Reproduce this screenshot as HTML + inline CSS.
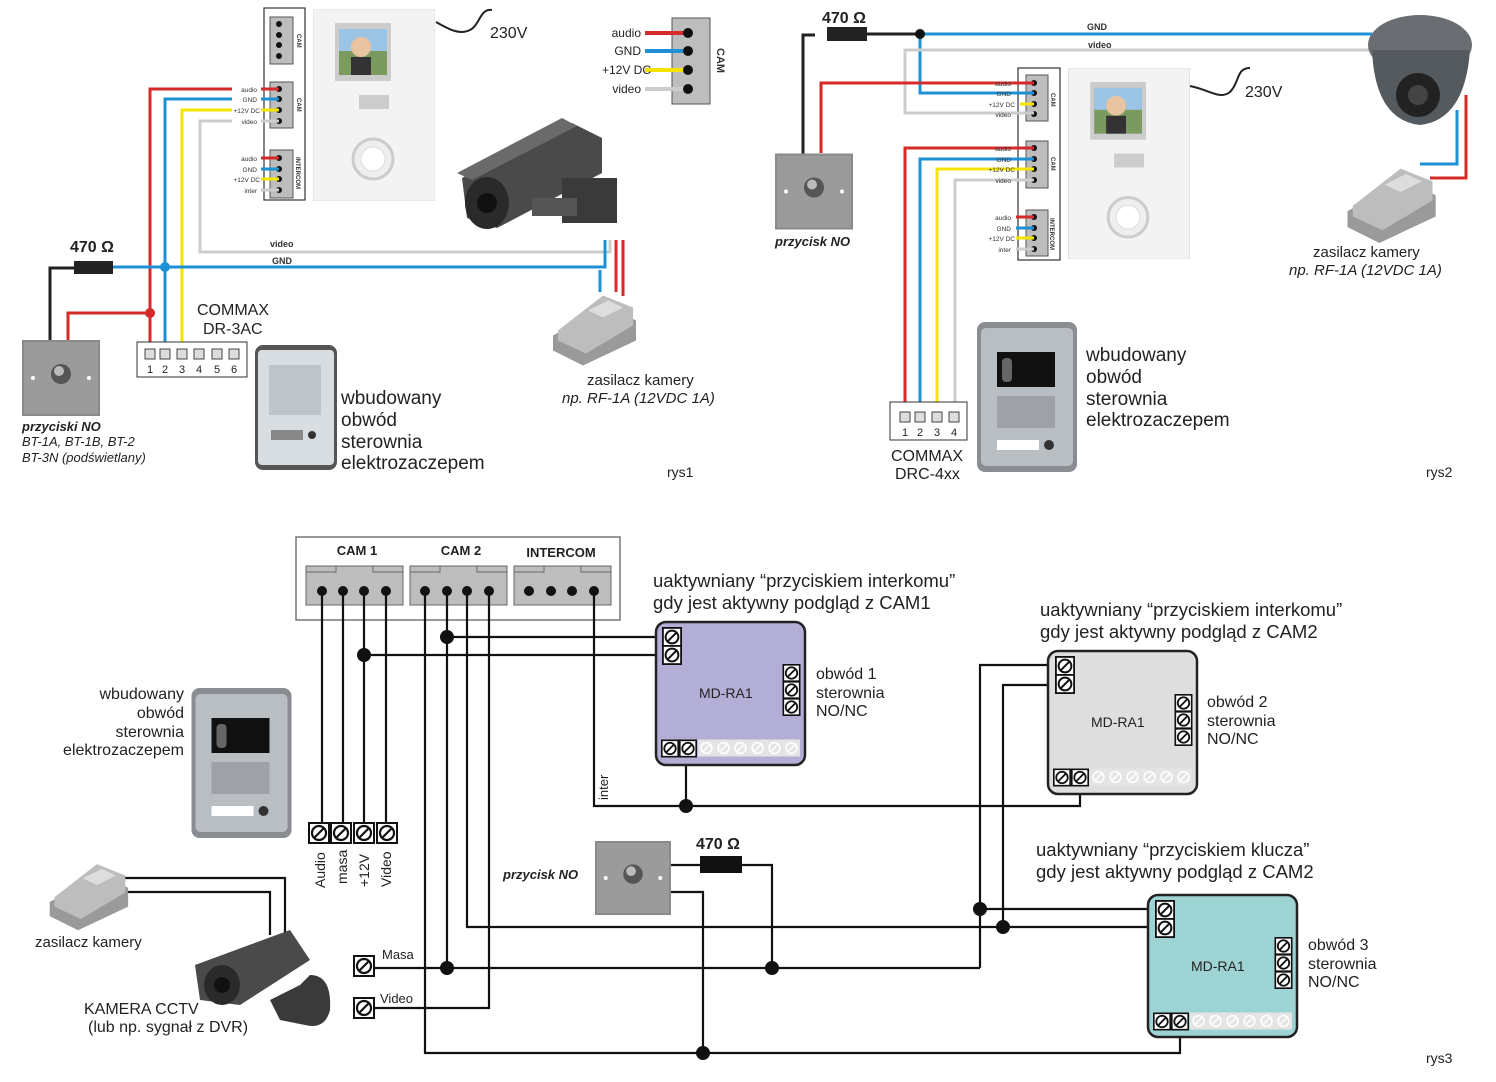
<!DOCTYPE html>
<html><head><meta charset="utf-8"><style>
html,body{margin:0;padding:0;background:#fff}
svg{display:block;font-family:"Liberation Sans",sans-serif}
.t{fill:#222}
.s{fill:#333}
.b{font-weight:bold}
</style></head><body>
<svg width="1496" height="1082" viewBox="0 0 1496 1082" xmlns="http://www.w3.org/2000/svg" font-size="17">
<defs>
<symbol id="sc" viewBox="0 0 22 22"><rect x="1" y="1" width="20" height="20" fill="#fff" stroke="#111" stroke-width="2"/><circle cx="11" cy="11" r="7" fill="none" stroke="#111" stroke-width="2.2"/><line x1="6" y1="16" x2="16" y2="6" stroke="#111" stroke-width="2.2"/></symbol>
<symbol id="scg" viewBox="0 0 22 22"><rect x="0" y="0" width="22" height="22" fill="#e4e4e4"/><circle cx="11" cy="11" r="7" fill="none" stroke="#fff" stroke-width="2"/><line x1="6" y1="16" x2="16" y2="6" stroke="#fff" stroke-width="2"/></symbol>
<symbol id="btn" viewBox="0 0 78 76"><rect x="0" y="0" width="78" height="76" fill="#8a8a8a"/><rect x="2" y="2" width="74" height="72" fill="#9b9b9b"/><circle cx="39" cy="34" r="10" fill="#555"/><circle cx="37" cy="31" r="5" fill="#bbb"/><circle cx="11" cy="38" r="2" fill="#fff"/><circle cx="67" cy="38" r="2" fill="#fff"/></symbol>
<symbol id="psu" viewBox="0 0 90 80"><polygon points="5,50 60,20 88,35 88,55 35,80 5,65" fill="#9a9a9a"/><polygon points="10,45 55,10 85,22 85,40 38,68 10,55" fill="#bdbdbd"/><polygon points="40,25 60,15 75,22 55,32" fill="#ddd"/></symbol>
<symbol id="mon" viewBox="0 0 122 192"><rect x="0" y="0" width="122" height="192" fill="#f3f3f3" stroke="#ddd"/><rect x="22" y="14" width="56" height="58" fill="#ccc"/><rect x="26" y="20" width="48" height="46" fill="#7a9a60"/><rect x="26" y="20" width="48" height="22" fill="#9cc4e4"/><circle cx="48" cy="38" r="10" fill="#e8c4a0"/><rect x="38" y="48" width="20" height="18" fill="#333"/><rect x="46" y="86" width="30" height="14" fill="#ccc"/><circle cx="60" cy="150" r="20" fill="#eee" stroke="#ccc" stroke-width="3"/><circle cx="60" cy="150" r="12" fill="#fff" stroke="#ddd"/></symbol>
<symbol id="ds1" viewBox="0 0 82 125"><rect x="0" y="0" width="82" height="125" rx="8" fill="#555"/><rect x="3" y="5" width="76" height="115" rx="4" fill="#d8dde2"/><rect x="14" y="20" width="52" height="50" fill="#bfc4c8"/><rect x="16" y="85" width="32" height="10" fill="#888"/><circle cx="57" cy="90" r="4" fill="#333"/></symbol>
<symbol id="ds2" viewBox="0 0 100 150"><rect x="0" y="0" width="100" height="150" rx="8" fill="#8a8e92"/><rect x="4" y="6" width="92" height="138" rx="5" fill="#b9bec3"/><rect x="20" y="30" width="58" height="35" fill="#111"/><rect x="25" y="36" width="10" height="24" rx="4" fill="#666"/><rect x="20" y="74" width="58" height="32" fill="#9ea2a6"/><rect x="20" y="118" width="42" height="10" fill="#fff"/><circle cx="72" cy="123" r="5" fill="#333"/></symbol>
<symbol id="cam" viewBox="0 0 180 130"><polygon points="10,60 120,5 150,20 150,55 45,110 15,100" fill="#4a4a4a"/><polygon points="5,55 110,0 125,8 20,62" fill="#6a6a6a"/><ellipse cx="35" cy="85" rx="22" ry="26" fill="#2a2a2a"/><circle cx="35" cy="85" r="10" fill="#111"/><rect x="110" y="60" width="55" height="45" fill="#3a3a3a"/><rect x="80" y="80" width="45" height="18" fill="#555"/></symbol>
</defs>

<!-- ============ RYS1 ============ -->
<rect x="264" y="8" width="41" height="192" fill="#fff" stroke="#333" stroke-width="1.2"/>
<g fill="#bdbdbd" stroke="#555" stroke-width="1"><rect x="270" y="17" width="23" height="47"/><rect x="270" y="82" width="23" height="46"/><rect x="270" y="150" width="23" height="48"/></g>
<g fill="#111"><circle cx="279" cy="24" r="3"/><circle cx="279" cy="35" r="3"/><circle cx="279" cy="45" r="3"/><circle cx="279" cy="56" r="3"/>
<circle cx="279" cy="89" r="3"/><circle cx="279" cy="99" r="3"/><circle cx="279" cy="110" r="3"/><circle cx="279" cy="121" r="3"/>
<circle cx="279" cy="158" r="3"/><circle cx="279" cy="169" r="3"/><circle cx="279" cy="179" r="3"/><circle cx="279" cy="190" r="3"/></g>
<g class="s" font-size="6" font-weight="bold"><text transform="translate(297,34) rotate(90)">CAM</text><text transform="translate(297,98) rotate(90)">CAM</text><text transform="translate(296,157) rotate(90)">INTERCOM</text></g>
<g stroke-width="3"><line x1="261" y1="89" x2="279" y2="89" stroke="#d42a2a"/><line x1="261" y1="99" x2="279" y2="99" stroke="#1e90d6"/><line x1="261" y1="110" x2="279" y2="110" stroke="#f5e400"/><line x1="261" y1="121" x2="279" y2="121" stroke="#ccc"/>
<line x1="261" y1="158" x2="279" y2="158" stroke="#d42a2a"/><line x1="261" y1="169" x2="279" y2="169" stroke="#1e90d6"/><line x1="261" y1="179" x2="279" y2="179" stroke="#f5e400"/><line x1="261" y1="190" x2="279" y2="190" stroke="#ccc"/></g>
<g class="s" font-size="6.5" text-anchor="end"><text x="257" y="92">audio</text><text x="257" y="102">GND</text><text x="260" y="113">+12V DC</text><text x="257" y="124">video</text><text x="257" y="161">audio</text><text x="257" y="172">GND</text><text x="260" y="182">+12V DC</text><text x="257" y="193">inter</text></g>
<use href="#mon" x="313" y="9" width="122" height="192"/>
<path d="M436,22 C450,30 460,35 470,30 C480,25 480,8 492,10" stroke="#222" stroke-width="2" fill="none"/>
<text x="490" y="38" class="t" font-size="16">230V</text>
<g fill="none" stroke-width="3">
<polyline points="232,89 150,89 150,357" stroke="#d42a2a"/>
<polyline points="232,99 165,99 165,357" stroke="#1e90d6"/>
<polyline points="232,110 182,110 182,357" stroke="#f5e400"/>
<polyline points="232,121 200,121 200,252 610,252 610,240" stroke="#ccc"/>
<polyline points="113,267 605,267 605,240" stroke="#1e90d6"/>
<polyline points="68,340 68,313 150,313" stroke="#d42a2a"/>
<polyline points="50,340 50,268 80,268" stroke="#222"/>
<line x1="616" y1="240" x2="616" y2="292" stroke="#d42a2a"/>
<line x1="623" y1="240" x2="623" y2="296" stroke="#d42a2a"/>
<line x1="600" y1="270" x2="600" y2="292" stroke="#1e90d6"/>
</g>
<rect x="74" y="261" width="39" height="13" fill="#222"/>
<text x="70" y="252" class="t b" font-size="16">470 Ω</text>
<circle cx="165" cy="267" r="5" fill="#1e90d6"/><circle cx="150" cy="313" r="5" fill="#d42a2a"/>
<text x="270" y="247" class="s" font-size="9" font-weight="bold">video</text><text x="272" y="264" class="s" font-size="9" font-weight="bold">GND</text>
<use href="#cam" x="452" y="118" width="180" height="130"/>
<use href="#psu" x="548" y="283" width="90" height="85"/>
<text x="587" y="385" class="t" font-size="15">zasilacz kamery</text>
<text x="562" y="403" class="t" font-size="15" font-style="italic">np. RF-1A (12VDC 1A)</text>
<rect x="672" y="18" width="38" height="86" fill="#bdbdbd" stroke="#555"/>
<g stroke-width="4"><line x1="645" y1="33" x2="688" y2="33" stroke="#d42a2a"/><line x1="645" y1="51" x2="688" y2="51" stroke="#1e90d6"/><line x1="645" y1="70" x2="688" y2="70" stroke="#f5e400"/><line x1="645" y1="89" x2="688" y2="89" stroke="#ccc"/></g>
<g fill="#111"><circle cx="688" cy="33" r="5"/><circle cx="688" cy="51" r="5"/><circle cx="688" cy="70" r="5"/><circle cx="688" cy="89" r="5"/></g>
<text transform="translate(717,48) rotate(90)" class="s b" font-size="11">CAM</text>
<g class="t" font-size="12" text-anchor="end"><text x="641" y="37">audio</text><text x="641" y="55">GND</text><text x="651" y="74">+12V DC</text><text x="641" y="93">video</text></g>
<use href="#btn" x="22" y="340" width="78" height="76"/>
<text x="22" y="431" class="t b" font-size="13" font-style="italic">przyciski NO</text>
<text x="22" y="446" class="t" font-size="13" font-style="italic">BT-1A, BT-1B, BT-2</text>
<text x="22" y="462" class="t" font-size="13" font-style="italic">BT-3N (podświetlany)</text>
<rect x="137" y="342" width="110" height="35" fill="#fff" stroke="#333"/>
<g fill="#ddd" stroke="#444"><rect x="145" y="349" width="10" height="10"/><rect x="160" y="349" width="10" height="10"/><rect x="177" y="349" width="10" height="10"/><rect x="194" y="349" width="10" height="10"/><rect x="212" y="349" width="10" height="10"/><rect x="229" y="349" width="10" height="10"/></g>
<g class="t" font-size="11" text-anchor="middle"><text x="150" y="373">1</text><text x="165" y="373">2</text><text x="182" y="373">3</text><text x="199" y="373">4</text><text x="217" y="373">5</text><text x="234" y="373">6</text></g>
<text x="197" y="315" class="t" font-size="16">COMMAX</text><text x="203" y="334" class="t" font-size="16">DR-3AC</text>
<use href="#ds1" x="255" y="345" width="82" height="125"/>
<g class="t" font-size="19"><text x="341" y="404">wbudowany</text><text x="341" y="426">obwód</text><text x="341" y="448">sterownia</text><text x="341" y="469">elektrozaczepem</text></g>
<text x="667" y="477" class="t" font-size="14">rys1</text>

<!-- ============ RYS2 ============ -->
<rect x="1018" y="68" width="42" height="192" fill="#fff" stroke="#333" stroke-width="1.2"/>
<g fill="#bdbdbd" stroke="#555"><rect x="1026" y="75" width="22" height="46"/><rect x="1026" y="141" width="22" height="47"/><rect x="1026" y="210" width="22" height="46"/></g>
<g fill="#111"><circle cx="1034" cy="83" r="3"/><circle cx="1034" cy="93" r="3"/><circle cx="1034" cy="104" r="3"/><circle cx="1034" cy="114" r="3"/><circle cx="1034" cy="148" r="3"/><circle cx="1034" cy="159" r="3"/><circle cx="1034" cy="169" r="3"/><circle cx="1034" cy="180" r="3"/><circle cx="1034" cy="217" r="3"/><circle cx="1034" cy="228" r="3"/><circle cx="1034" cy="238" r="3"/><circle cx="1034" cy="249" r="3"/></g>
<g class="s" font-size="6" font-weight="bold"><text transform="translate(1051,93) rotate(90)">CAM</text><text transform="translate(1051,157) rotate(90)">CAM</text><text transform="translate(1050,218) rotate(90)">INTERCOM</text></g>
<g stroke-width="3"><line x1="1016" y1="217" x2="1034" y2="217" stroke="#d42a2a"/><line x1="1016" y1="228" x2="1034" y2="228" stroke="#1e90d6"/><line x1="1016" y1="238" x2="1034" y2="238" stroke="#f5e400"/><line x1="1016" y1="249" x2="1034" y2="249" stroke="#ccc"/></g>
<g fill="none" stroke-width="3">
<polyline points="803,155 803,35 815,35" stroke="#222"/>
<line x1="845" y1="34" x2="920" y2="34" stroke="#222"/>
<polyline points="920,34 1372,34" stroke="#1e90d6"/>
<polyline points="920,34 920,93 1034,93" stroke="#1e90d6"/>
<polyline points="1372,50 905,50 905,113 1034,113" stroke="#ccc"/>
<polyline points="821,153 821,83 1034,83" stroke="#d42a2a"/>
<polyline points="1034,148 905,148 905,413" stroke="#d42a2a"/>
<polyline points="1034,159 920,159 920,413" stroke="#1e90d6"/>
<polyline points="1034,169 937,169 937,413" stroke="#f5e400"/>
<polyline points="1034,180 955,180 955,413" stroke="#ccc"/>
<polyline points="1457,110 1457,164 1420,164" stroke="#1e90d6"/>
<polyline points="1466,95 1466,178 1430,178" stroke="#d42a2a"/>
<line x1="1034" y1="104" x2="1020" y2="104" stroke="#f5e400"/>
</g>
<g class="s" font-size="6.5" text-anchor="end"><text x="1011" y="86">audio</text><text x="1011" y="96">GND</text><text x="1015" y="107">+12V DC</text><text x="1011" y="117">video</text><text x="1011" y="151">audio</text><text x="1011" y="162">GND</text><text x="1015" y="172">+12V DC</text><text x="1011" y="183">video</text><text x="1011" y="220">audio</text><text x="1011" y="231">GND</text><text x="1015" y="241">+12V DC</text><text x="1011" y="252">inter</text></g>
<use href="#mon" x="1068" y="68" width="122" height="191"/>
<path d="M1190,86 C1210,90 1220,100 1230,92 C1240,82 1236,68 1250,68" stroke="#222" stroke-width="2" fill="none"/>
<text x="1245" y="97" class="t" font-size="16">230V</text>
<rect x="827" y="27" width="40" height="14" fill="#222"/>
<circle cx="920" cy="34" r="5" fill="#111"/>
<text x="822" y="23" class="t b" font-size="16">470 Ω</text>
<text x="1087" y="30" class="s b" font-size="9">GND</text><text x="1088" y="48" class="s b" font-size="9">video</text>
<g><ellipse cx="1420" cy="45" rx="52" ry="30" fill="#6a6e72"/><path d="M1372,50 Q1375,120 1420,125 Q1465,120 1470,50 Z" fill="#555a5e"/><circle cx="1418" cy="95" r="22" fill="#222"/><circle cx="1418" cy="95" r="10" fill="#444"/></g>
<use href="#psu" x="1340" y="158" width="100" height="85"/>
<text x="1313" y="257" class="t" font-size="15">zasilacz kamery</text>
<text x="1289" y="275" class="t" font-size="15" font-style="italic">np. RF-1A (12VDC 1A)</text>
<use href="#btn" x="775" y="153" width="78" height="77"/>
<text x="775" y="246" class="t b" font-size="13" font-style="italic">przycisk NO</text>
<rect x="890" y="402" width="77" height="38" fill="#fff" stroke="#333"/>
<g fill="#ddd" stroke="#444"><rect x="900" y="412" width="10" height="10"/><rect x="915" y="412" width="10" height="10"/><rect x="932" y="412" width="10" height="10"/><rect x="949" y="412" width="10" height="10"/></g>
<g class="t" font-size="11" text-anchor="middle"><text x="905" y="436">1</text><text x="920" y="436">2</text><text x="937" y="436">3</text><text x="954" y="436">4</text></g>
<text x="891" y="461" class="t" font-size="16">COMMAX</text><text x="895" y="479" class="t" font-size="16">DRC-4xx</text>
<use href="#ds2" x="977" y="322" width="100" height="150"/>
<g class="t" font-size="19"><text x="1086" y="361">wbudowany</text><text x="1086" y="383">obwód</text><text x="1086" y="405">sterownia</text><text x="1086" y="426">elektrozaczepem</text></g>
<text x="1426" y="477" class="t" font-size="14">rys2</text>

<!-- ============ RYS3 ============ -->
<rect x="296" y="537" width="324" height="83" fill="#fff" stroke="#777" stroke-width="1.5"/>
<g fill="#bdbdbd" stroke="#666"><rect x="306" y="566" width="97" height="39"/><rect x="410" y="566" width="97" height="39"/><rect x="514" y="566" width="97" height="39"/></g>
<g fill="none" stroke="#666"><polyline points="306,572 336,572 336,566"/><polyline points="373,566 373,572 403,572"/><polyline points="410,572 440,572 440,566"/><polyline points="477,566 477,572 507,572"/><polyline points="514,572 544,572 544,566"/><polyline points="581,566 581,572 611,572"/></g>
<g class="t b" font-size="13" text-anchor="middle"><text x="357" y="555">CAM 1</text><text x="461" y="555">CAM 2</text><text x="561" y="557">INTERCOM</text></g>
<g fill="#111"><circle cx="322" cy="591" r="5"/><circle cx="343" cy="591" r="5"/><circle cx="364" cy="591" r="5"/><circle cx="386" cy="591" r="5"/><circle cx="425" cy="591" r="5"/><circle cx="447" cy="591" r="5"/><circle cx="467" cy="591" r="5"/><circle cx="489" cy="591" r="5"/><circle cx="529" cy="591" r="5"/><circle cx="551" cy="591" r="5"/><circle cx="572" cy="591" r="5"/><circle cx="594" cy="591" r="5"/></g>
<g fill="none" stroke="#111" stroke-width="2.2">
<line x1="322" y1="591" x2="322" y2="824"/><line x1="343" y1="591" x2="343" y2="824"/><line x1="364" y1="591" x2="364" y2="824"/><line x1="386" y1="591" x2="386" y2="824"/>
<polyline points="425,591 425,1053 1180,1053 1180,1030"/>
<polyline points="447,591 447,968"/>
<polyline points="467,591 467,927 1160,927"/>
<polyline points="489,591 489,1008 374,1008"/>
<polyline points="594,591 594,806 1080,806 1080,790"/>
<line x1="447" y1="637" x2="668" y2="637"/>
<line x1="364" y1="655" x2="668" y2="655"/>
<line x1="686" y1="745" x2="686" y2="806"/>
<line x1="374" y1="968" x2="980" y2="968"/>
<polyline points="980,968 980,665 1060,665"/>
<line x1="980" y1="909" x2="1160" y2="909"/>
<polyline points="1003,927 1003,685 1060,685"/>
<polyline points="670,865 742,865"/>
<polyline points="742,865 772,865 772,968"/>
<polyline points="670,892 703,892 703,1053"/>
<polyline points="100,878 285,878 285,935"/>
<polyline points="100,892 270,892 270,935"/>
</g>
<g fill="#111"><circle cx="447" cy="637" r="7"/><circle cx="364" cy="655" r="7"/><circle cx="686" cy="806" r="7"/><circle cx="447" cy="968" r="7"/><circle cx="772" cy="968" r="7"/><circle cx="980" cy="909" r="7"/><circle cx="1003" cy="927" r="7"/><circle cx="703" cy="1053" r="7"/></g>
<rect x="700" y="856" width="42" height="17" fill="#111"/>
<text x="696" y="849" class="t b" font-size="16">470 Ω</text>
<text transform="translate(608,800) rotate(-90)" class="t" font-size="13">inter</text>
<use href="#sc" x="308" y="822" width="22" height="22"/><use href="#sc" x="330" y="822" width="22" height="22"/><use href="#sc" x="353" y="822" width="22" height="22"/><use href="#sc" x="376" y="822" width="22" height="22"/>
<g class="t" font-size="14"><text transform="translate(325,888) rotate(-90)">Audio</text><text transform="translate(347,884) rotate(-90)">masa</text><text transform="translate(369,887) rotate(-90)">+12V</text><text transform="translate(391,887) rotate(-90)">Video</text></g>
<use href="#sc" x="353" y="955" width="22" height="22"/><use href="#sc" x="353" y="997" width="22" height="22"/>
<text x="382" y="959" class="t" font-size="13">Masa</text><text x="380" y="1003" class="t" font-size="13">Video</text>
<rect x="656" y="622" width="149" height="143" rx="10" fill="#b3aed6" stroke="#222" stroke-width="2.5"/>
<rect x="1048" y="651" width="149" height="143" rx="10" fill="#dedede" stroke="#222" stroke-width="2.5"/>
<rect x="1148" y="895" width="149" height="142" rx="10" fill="#9dd3d3" stroke="#222" stroke-width="2.5"/>
<use href="#sc" x="662" y="627" width="20" height="20"/><use href="#sc" x="662" y="645" width="20" height="20"/>
<use href="#sc" x="782" y="664" width="19" height="18"/><use href="#sc" x="782" y="681" width="19" height="18"/><use href="#sc" x="782" y="698" width="19" height="18"/>
<use href="#sc" x="661" y="739" width="18" height="19"/><use href="#sc" x="679" y="739" width="18" height="19"/>
<use href="#scg" x="698" y="739" width="17" height="18"/><use href="#scg" x="715" y="739" width="17" height="18"/><use href="#scg" x="732" y="739" width="17" height="18"/><use href="#scg" x="749" y="739" width="17" height="18"/><use href="#scg" x="766" y="739" width="17" height="18"/><use href="#scg" x="783" y="739" width="17" height="18"/>
<text x="699" y="698" class="t" font-size="14">MD-RA1</text>
<use href="#sc" x="1055" y="656" width="20" height="20"/><use href="#sc" x="1055" y="674" width="20" height="20"/>
<use href="#sc" x="1174" y="694" width="19" height="18"/><use href="#sc" x="1174" y="711" width="19" height="18"/><use href="#sc" x="1174" y="728" width="19" height="18"/>
<use href="#sc" x="1053" y="768" width="18" height="19"/><use href="#sc" x="1071" y="768" width="18" height="19"/>
<use href="#scg" x="1090" y="768" width="17" height="18"/><use href="#scg" x="1107" y="768" width="17" height="18"/><use href="#scg" x="1124" y="768" width="17" height="18"/><use href="#scg" x="1141" y="768" width="17" height="18"/><use href="#scg" x="1158" y="768" width="17" height="18"/><use href="#scg" x="1175" y="768" width="17" height="18"/>
<text x="1091" y="727" class="t" font-size="14">MD-RA1</text>
<use href="#sc" x="1155" y="900" width="20" height="20"/><use href="#sc" x="1155" y="918" width="20" height="20"/>
<use href="#sc" x="1274" y="937" width="19" height="18"/><use href="#sc" x="1274" y="954" width="19" height="18"/><use href="#sc" x="1274" y="971" width="19" height="18"/>
<use href="#sc" x="1153" y="1012" width="18" height="19"/><use href="#sc" x="1171" y="1012" width="18" height="19"/>
<use href="#scg" x="1190" y="1012" width="17" height="18"/><use href="#scg" x="1207" y="1012" width="17" height="18"/><use href="#scg" x="1224" y="1012" width="17" height="18"/><use href="#scg" x="1241" y="1012" width="17" height="18"/><use href="#scg" x="1258" y="1012" width="17" height="18"/><use href="#scg" x="1275" y="1012" width="17" height="18"/>
<text x="1191" y="971" class="t" font-size="14">MD-RA1</text>
<g class="t" font-size="18.5">
<text x="653" y="587">uaktywniany “przyciskiem interkomu”</text><text x="653" y="609">gdy jest aktywny podgląd z CAM1</text>
<text x="1040" y="616">uaktywniany “przyciskiem interkomu”</text><text x="1040" y="638">gdy jest aktywny podgląd z CAM2</text>
<text x="1036" y="856">uaktywniany “przyciskiem klucza”</text><text x="1036" y="878">gdy jest aktywny podgląd z CAM2</text>
</g>
<g class="t" font-size="16">
<text x="816" y="679">obwód 1</text><text x="816" y="698">sterownia</text><text x="816" y="716">NO/NC</text>
<text x="1207" y="707">obwód 2</text><text x="1207" y="726">sterownia</text><text x="1207" y="744">NO/NC</text>
<text x="1308" y="950">obwód 3</text><text x="1308" y="969">sterownia</text><text x="1308" y="987">NO/NC</text>
</g>
<g class="t" font-size="16" text-anchor="end"><text x="184" y="699">wbudowany</text><text x="184" y="718">obwód</text><text x="184" y="737">sterownia</text><text x="184" y="755">elektrozaczepem</text></g>
<use href="#ds2" x="191" y="688" width="101" height="150"/>
<use href="#btn" x="595" y="840" width="76" height="76"/>
<text x="503" y="879" class="t b" font-size="13" font-style="italic">przycisk  NO</text>
<use href="#psu" x="45" y="850" width="85" height="85"/>
<text x="35" y="947" class="t" font-size="15">zasilacz kamery</text>
<g><polygon points="195,965 290,930 310,960 240,1005 200,1000" fill="#4a4a4a"/><ellipse cx="222" cy="985" rx="18" ry="20" fill="#2a2a2a"/><circle cx="222" cy="985" r="8" fill="#111"/><path d="M270,1000 L300,985 L310,975 Q332,975 330,1010 Q325,1030 305,1025 L280,1020 Z" fill="#3a3a3a"/></g>
<text x="84" y="1014" class="t" font-size="16">KAMERA CCTV</text>
<text x="88" y="1032" class="t" font-size="16">(lub np. sygnał z DVR)</text>
<text x="1426" y="1063" class="t" font-size="14">rys3</text>
</svg>
</body></html>
